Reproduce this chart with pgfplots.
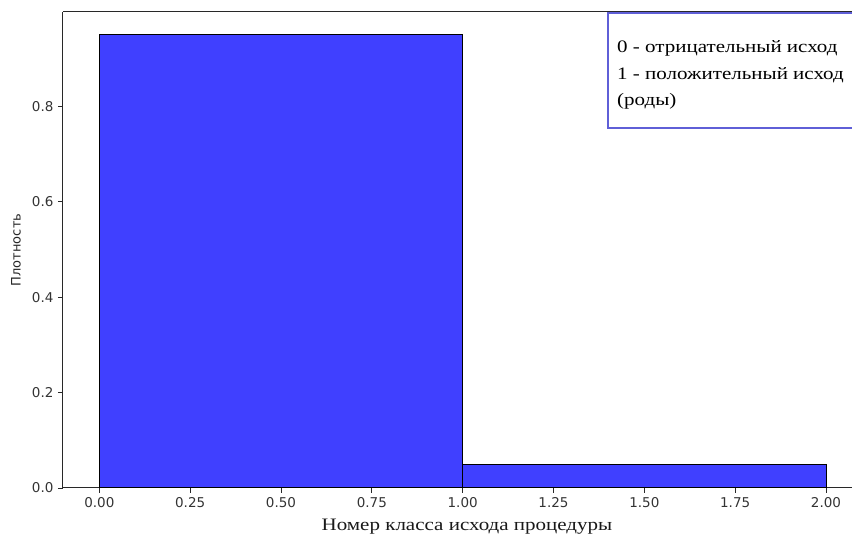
\documentclass[border=0pt]{standalone}
\usepackage{fontspec}
\usepackage{pgfplots}
\pgfplotsset{compat=1.18}
\setmainfont{Liberation Serif}
\newfontfamily\dejavu{DejaVu Sans}
\newfontfamily\serifx[FakeStretch=1.2]{Liberation Serif}
\definecolor{barblue}{RGB}{64,64,255}
\definecolor{legblue}{RGB}{95,95,215}
\definecolor{spine}{RGB}{40,40,40}
\begin{document}
\begin{tikzpicture}[x=1pt,y=1pt]
\begin{axis}[
  at={(0pt,0pt)}, anchor=south west,
  scale only axis,
  width=789pt, height=476pt,
  xmin=-0.1, xmax=2.0715,
  ymin=0, ymax=0.9975,
  axis x line*=bottom, axis y line*=left,
  axis line style={spine, line width=1pt},
  tick align=outside,
  major tick length=5pt,
  tick style={spine, line width=0.9pt},
  xtick={0,0.25,0.5,0.75,1,1.25,1.5,1.75,2},
  ytick={0,0.2,0.4,0.6,0.8},
  xticklabels={0.00,0.25,0.50,0.75,1.00,1.25,1.50,1.75,2.00},
  yticklabels={0.0,0.2,0.4,0.6,0.8},
  /pgf/number format/assume math mode=true,
  ticklabel style={font=\dejavu\fontsize{13.5}{15}\selectfont, text=black!80},
  xticklabel style={yshift=-1pt},
  yticklabel style={xshift=-1pt},
  xlabel={Номер класса исхода процедуры},
  xlabel style={at={(rel axis cs:0.512,0)}, anchor=base, yshift=-43pt,
    font=\serifx\fontsize{17.5}{19}\selectfont, text=black!90},
  ylabel={Плотность},
  ylabel style={at={(axis description cs:-0.0596,0.5)}, anchor=center,
    font=\dejavu\fontsize{13}{15}\selectfont, text=black!85},
  clip=false,
]
\addplot[ybar interval, fill=barblue, draw=black, line width=1pt]
  coordinates {(0,0.95) (1,0.05) (2,0.05)};
\draw[spine, line width=1pt] (rel axis cs:0,1) -- (rel axis cs:1,1);
\end{axis}
\draw[legblue, line width=1.3pt] (545,475) rectangle (830,360);
\node[anchor=base west, inner sep=0pt, font=\serifx\fontsize{17.5}{19}\selectfont]
  at (554,435) {0 - отрицательный исход};
\node[anchor=base west, inner sep=0pt, font=\serifx\fontsize{17.5}{19}\selectfont]
  at (554,408) {1 - положительный исход};
\node[anchor=base west, inner sep=0pt, font=\serifx\fontsize{17.5}{19}\selectfont]
  at (554,382) {(роды)};
\pgfresetboundingbox
\useasboundingbox (-63,-50) rectangle (789,488);
\end{tikzpicture}
\end{document}
